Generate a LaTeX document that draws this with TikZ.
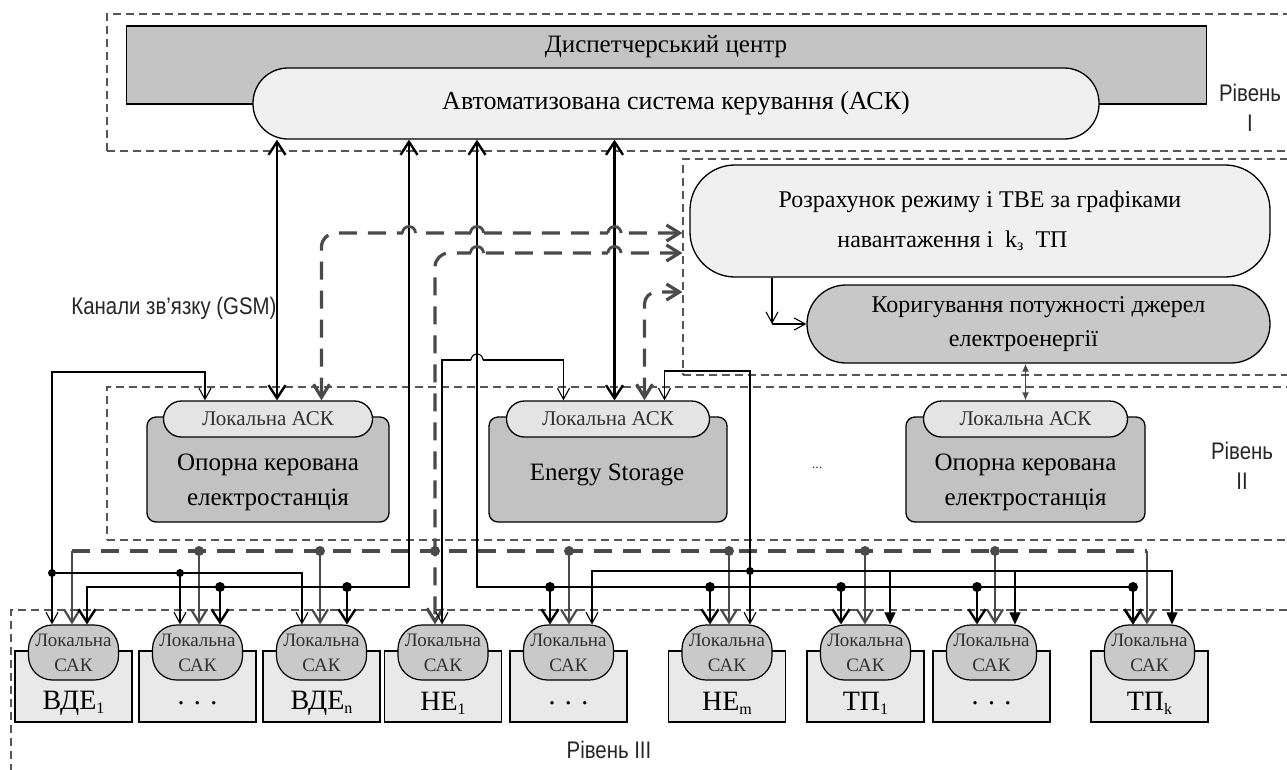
\documentclass[tikz,border=0pt]{standalone}
\usepackage{fontspec}
\setmainfont{Liberation Serif}
\newfontfamily\sansf{Liberation Sans}[FakeStretch=0.85]
\usetikzlibrary{arrows.meta}
\definecolor{dispgray}{HTML}{C4C4C4}
\definecolor{asklight}{HTML}{F0F0F0}
\definecolor{korgray}{HTML}{C8C8C8}
\definecolor{stgray}{HTML}{C2C2C2}
\definecolor{locask}{HTML}{E4E4E4}
\definecolor{unitbg}{HTML}{E9E9E9}
\definecolor{unitsak}{HTML}{C9C9C9}
\definecolor{wire}{HTML}{4A4A4A}
\definecolor{txtgray}{HTML}{303030}
\definecolor{regline}{HTML}{555555}
\newcommand\lsub[1]{\raisebox{-0.3ex}{\fontsize{16}{16}\selectfont #1}}
\tikzset{
  box/.style={draw, line width=1.3pt, inner sep=0pt, align=center},
  region/.style={draw=regline, line width=1.1pt, dash pattern=on 8pt off 5pt, inner sep=0pt},
  sanslab/.style={font=\sansf\fontsize{24}{30}\selectfont, align=center, text=black!85},
  thk/.style={line width=2.4pt},
  thn/.style={line width=1.1pt},
  gdash/.style={draw=wire, line width=3.2pt, dash pattern=on 18pt off 11pt},
  gsolid/.style={draw=wire, line width=2.2pt},
  gthin/.style={draw=wire, line width=1.3pt},
  dotk/.style={fill=black},
  dotg/.style={fill=wire},
  hop/.style={start angle=180, end angle=0, radius=6pt},
  hopgap/.style={fill=white},
  thktip/.tip={Straight Barb[length=13pt,width=17pt]},
  thntip/.tip={Straight Barb[length=11pt,width=12pt]},
  gtip/.tip={Straight Barb[length=13pt,width=16pt]},
  filltip/.tip={Triangle[length=12pt,width=11pt]},
  smalltip/.tip={Latex[length=8pt,width=7pt]}
}
\begin{document}
\begin{tikzpicture}[x=1pt,y=-1pt]
\useasboundingbox (0,0) rectangle (1287,769);
\fill[white] (0,0) rectangle (1287,769);
% ---------- regions ----------
\node[region, minimum width=1193pt, minimum height=137pt] (lvl1) at (703.5,82.5) {};
\node[region, minimum width=617pt, minimum height=216pt] (rbox) at (991.5,267) {};
\node[region, minimum width=1193pt, minimum height=153pt] (lvl2) at (703.5,463.5) {};
\node[region, minimum width=1289pt, minimum height=180pt] (lvl3) at (655.5,700) {};
% ---------- level I ----------
\node[box, fill=dispgray, minimum width=1080pt, minimum height=78pt] (disp) at (666.5,65) {};
\node[font=\fontsize{25}{25}\selectfont] (dispt) at (666,47) {Диспетчерський центр};
\node[box, fill=asklight, rounded corners=35pt, minimum width=846pt, minimum height=71pt,
      font=\fontsize{26}{26}\selectfont] (ask) at (676,103.5) {Автоматизована система керування (АСК)};
\node[sanslab] (r1) at (1250,108) {Рівень\\I};
% ---------- calculation block ----------
\node[box, fill=asklight, rounded corners=45pt, minimum width=580pt, minimum height=112pt,
      font=\fontsize{24}{40}\selectfont] (rozr) at (980,221)
      {Розрахунок режиму і ТВЕ за графіками\\навантаження і \ k\lsub{з} \ ТП\hspace*{55pt}};
\node[box, fill=korgray, rounded corners=39pt, minimum width=463pt, minimum height=78pt,
      font=\fontsize{24}{34}\selectfont] (kor) at (1038.5,324)
      {Коригування потужності джерел\\електроенергії\hspace*{30pt}};
% ---------- level II ----------
\foreach \s/\cx/\bw/\aw in {st1/268/242/209, es/608/238/203, st3/1025.5/239/204} {
  \node[box, fill=stgray, rounded corners=9pt, minimum width=\bw pt, minimum height=105pt] (\s) at (\cx,469.5) {};
  \node[box, fill=locask, rounded corners=18pt, minimum width=\aw pt, minimum height=36pt,
        text=txtgray, font=\fontsize{21}{21}\selectfont] (\s-ask) at (\cx,419) {Локальна АСК};
}
\node[font=\fontsize{25}{35}\selectfont, align=center] (st1-txt) at (268,482.5) {Опорна керована\\електростанція};
\node[font=\fontsize{25}{35}\selectfont] (es-txt) at (607,475) {Energy Storage};
\node[font=\fontsize{25}{35}\selectfont, align=center] (st3-txt) at (1025.5,482.5) {Опорна керована\\електростанція};
\node[text=txtgray, font=\fontsize{14}{14}\selectfont] (dots2) at (817,468) {...};
\node[sanslab] (r2) at (1242,466) {Рівень\\II};
\node[sanslab, anchor=east] (kanaly) at (280,308) {Канали зв’язку (GSM)};
\node[sanslab] (r3) at (609,750) {Рівень III};
% ---------- level III units ----------
\foreach \n/\cx/\lab/\ta/\ga/\ka in {
  u1/73.5/ВДЕ\lsub{1}/-21.5/-1.5/13.5,
  u2/197.5/. . ./-17.5/1.5/22.5,
  u3/321.5/ВДЕ\lsub{n}/-19.5/-1.5/25.5,
  u4/443/НЕ\lsub{1}/-1/-8/0,
  u5/568.5/. . ./23.5/0.5/-18.5,
  u6/727/НЕ\lsub{m}/23/2/-17,
  u7/865.5/ТП\lsub{1}/24.5/-0.5/-24.5,
  u8/991.5/. . ./23.5/3.5/-14.5,
  u9/1149.5/ТП\lsub{k}/22.5/-2.5/-16.5} {
  \node[box, line width=1.2pt, fill=unitbg, minimum width=117pt, minimum height=71pt] (\n-r) at (\cx,686.5) {};
  \node[box, line width=1.2pt, fill=unitsak, rounded corners=24pt, minimum width=90pt, minimum height=55pt,
        text=txtgray, font=\fontsize{19}{25}\selectfont] (\n) at (\cx,652.5) {Локальна\\САК};
  \node[font=\fontsize{28}{28}\selectfont] (\n-l) at (\cx,703) {\lab};
  \path ([xshift=\ta pt]\n.north) coordinate (\n-thin)
        ([xshift=\ga pt]\n.north) coordinate (\n-gray)
        ([xshift=\ka pt]\n.north) coordinate (\n-thick);
}
% ---------- helper coordinates ----------
\coordinate (yb) at (0,587);    % thick bus
\coordinate (yd) at (0,573);    % thin bus left
\coordinate (ye) at (0,571);    % thin bus right
\coordinate (ygb) at (0,551);   % grey bus
\coordinate (yD) at (0,372);
\coordinate (yC) at (0,360);
\coordinate (yBt) at (0,371);
\coordinate (yA) at (0,233);
\coordinate (yB) at (0,253);
\coordinate (yE) at (0,292);
\coordinate (b1x) at (409,0);
\coordinate (b2x) at (477,0);
\path ([xshift=9pt]st1-ask.north) coordinate (k1)
      ([xshift=6.5pt]es-ask.north) coordinate (k4)
      ([xshift=-63pt]st1-ask.north) coordinate (st1t)
      ([xshift=53.5pt]st1-ask.north) coordinate (st1g)
      ([xshift=-44.5pt]es-ask.north) coordinate (esC)
      ([xshift=56.5pt]es-ask.north) coordinate (esB)
      ([xshift=36.5pt]es-ask.north) coordinate (esE)
      ([xshift=-208pt]rozr.south) coordinate (rk);
% hop points
\path (b1x |- yA) coordinate (hA1) (b2x |- yA) coordinate (hA2) (k4 |- yA) coordinate (hA3)
      (b2x |- yB) coordinate (hB1) (k4 |- yB) coordinate (hB2) (b2x |- yC) coordinate (hC1);
% ---------- grey dashed links ----------
\draw[gdash, gtip-gtip, rounded corners=14pt] (st1g) -- (st1g |- yA) -- (rbox.west |- yA);
\draw[gdash, gtip-gtip, rounded corners=14pt] (rbox.west |- yB) -- (u4-gray |- yB) -- (u4-gray);
\draw[gdash, gtip-gtip, rounded corners=12pt] (esE) -- (esE |- yE) -- (rbox.west |- yE);
\draw[gdash] (u1-gray |- ygb) -- (u9-gray |- ygb);
\foreach \u in {u1,u2,u3,u5,u6,u7,u8,u9} {
  \draw[gsolid, -gtip] (\u-gray |- ygb) -- (\u-gray);
}
\foreach \u in {u2,u3,u4,u5,u6,u7,u8} {
  \fill[dotg] (\u-gray |- ygb) circle (5pt);
}
% ---------- thin links ----------
\draw[thn, thntip-thntip] (st1t) -- (st1t |- yD) -- (u1-thin |- yD) -- (u1-thin);
\draw[thn, -thntip] (u1-thin |- yd) -- (u3-thin |- yd) -- (u3-thin);
\draw[thn, -thntip] (u2-thin |- yd) -- (u2-thin);
\fill[dotk] (u1-thin |- yd) circle (4pt);
\fill[dotk] (u2-thin |- yd) circle (4pt);
\draw[thn, thntip-thntip] (esC) -- (esC |- yC) -- (u4-thin |- yC) -- (u4-thin);
\draw[thn, thntip-thntip] (esB) -- (esB |- yBt) -- (u6-thin |- yBt) -- (u6-thin);
\draw[thn, -thntip] (u6-thin |- ye) -- (u5-thin |- ye) -- (u5-thin);
\draw[thn, -filltip] (u6-thin |- ye) -- (u9-thin |- ye) -- (u9-thin);
\draw[thn, -filltip] (u7-thin |- ye) -- (u7-thin);
\draw[thn, -filltip] (u8-thin |- ye) -- (u8-thin);
\fill[dotk] (u6-thin |- ye) circle (4pt);
% gaps where the horizontal links hop over the vertical trunks
\foreach \h in {hA1,hA2,hA3,hB1,hB2} {
  \fill[hopgap] ([shift={(-6.5pt,-2.5pt)}]\h) rectangle ([shift={(6.5pt,2.5pt)}]\h);
}
\fill[hopgap] ([shift={(-6pt,-1.5pt)}]hC1) rectangle ([shift={(6pt,1.5pt)}]hC1);
% ---------- thick links ----------
\draw[thk, thktip-thktip] (ask.south -| k1) -- (k1);
\draw[thk, thktip-thktip] (ask.south -| k4) -- (k4);
\draw[thk, thktip-thktip] (ask.south -| b1x) -- (b1x |- yb) -- (u1-thick |- yb) -- (u1-thick);
\foreach \u in {u2,u3} {
  \draw[thk, -thktip] (\u-thick |- yb) -- (\u-thick);
  \fill[dotk] (\u-thick |- yb) circle (5pt);
}
\draw[thk, thktip-thktip] (ask.south -| b2x) -- (b2x |- yb) -- (u9-thick |- yb) -- (u9-thick);
\foreach \u in {u5,u6,u7,u8,u9} {
  \draw[thk, -thktip] (\u-thick |- yb) -- (\u-thick);
  \fill[dotk] (\u-thick |- yb) circle (5pt);
}
% hop arcs
\foreach \h in {hA1,hA2,hA3,hB1,hB2} {
  \draw[draw=wire, line width=2.8pt] ([xshift=-6.5pt]\h) arc[start angle=180, end angle=0, radius=6.5pt];
}
\draw[thn] ([xshift=-6pt]hC1) arc[hop];
% ---------- calculation links ----------
\draw[thn, -thntip] (rk) -- (rk |- kor.west);
\draw[thn, -thntip] (rk |- kor.west) -- (kor.west);
\draw[gthin, smalltip-smalltip] (kor.south -| st3-ask.north) -- (st3-ask.north);
\end{tikzpicture}
\end{document}
